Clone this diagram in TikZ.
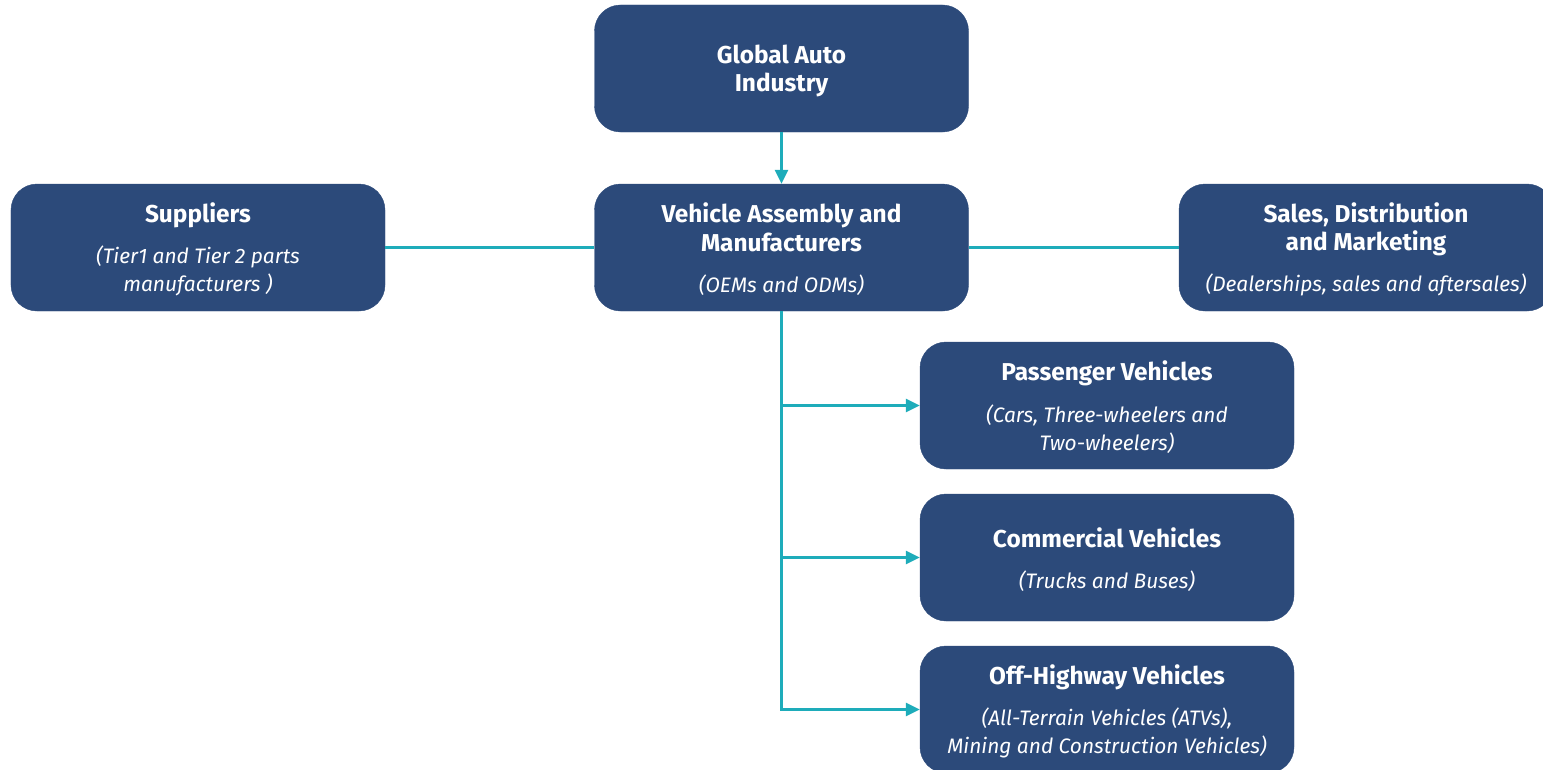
\documentclass[tikz,border=0pt]{standalone}
\usepackage{fontspec}
\setmainfont{Fira Sans}
\usetikzlibrary{arrows.meta}
\definecolor{boxblue}{HTML}{2C4A7A}
\definecolor{lineteal}{HTML}{1EACBA}
\newcommand{\ttlf}{\fontsize{24.5}{28.5}\selectfont\bfseries}
\newcommand{\sbtf}{\fontsize{21}{27}\selectfont\mdseries\itshape}
\newcommand{\tstrut}{\rule{0pt}{23.5bp}}
\tikzset{
  box/.style={fill=boxblue, draw=boxblue, rounded corners=26bp, minimum width=374bp, minimum height=127bp,
    text=white, align=center, inner sep=0pt, font=\ttlf},
  conn/.style={draw=lineteal, line width=3bp},
  arr/.style={conn, -{Triangle[length=14bp,width=13bp]}},
}
\begin{document}
\begin{tikzpicture}[x=1bp,y=-1bp]
\useasboundingbox (0,0) rectangle (1543,770);
\node[box] (global) at (781.5,68.5) {\tstrut Global Auto\\Industry};
\node[box] (vam) at (781.5,247.5) {\tstrut Vehicle Assembly and\\Manufacturers\\[13bp]\sbtf (OEMs and ODMs)};
\node[box] (sup) at (198,247.5) {\tstrut Suppliers\\[13bp]\sbtf (Tier1 and Tier 2 parts\\\sbtf manufacturers )};
\node[box] (sales) at (1366,247.5) {\tstrut Sales, Distribution\\and Marketing\\[13bp]\sbtf (Dealerships, sales and aftersales)};
\node[box] (pv) at (1107,405.5) {\tstrut Passenger Vehicles\\[13bp]\sbtf (Cars, Three-wheelers and\\\sbtf Two-wheelers)};
\node[box] (cv) at (1107,557.5) {\tstrut Commercial Vehicles\\[13bp]\sbtf (Trucks and Buses)};
\node[box] (ohv) at (1107,709.5) {\tstrut Off-Highway Vehicles\\[13bp]\sbtf (All-Terrain Vehicles (ATVs),\\\sbtf Mining and Construction Vehicles)};
\draw[arr] (global.south) -- (vam.north);
\draw[conn] (sup.east) -- (vam.west);
\draw[conn] (vam.east) -- (sales.west);
\draw[arr] (vam.south) -- (vam.south |- ohv.west) -- (ohv.west);
\draw[arr] (vam.south |- pv.west) -- (pv.west);
\draw[arr] (vam.south |- cv.west) -- (cv.west);
\end{tikzpicture}
\end{document}
